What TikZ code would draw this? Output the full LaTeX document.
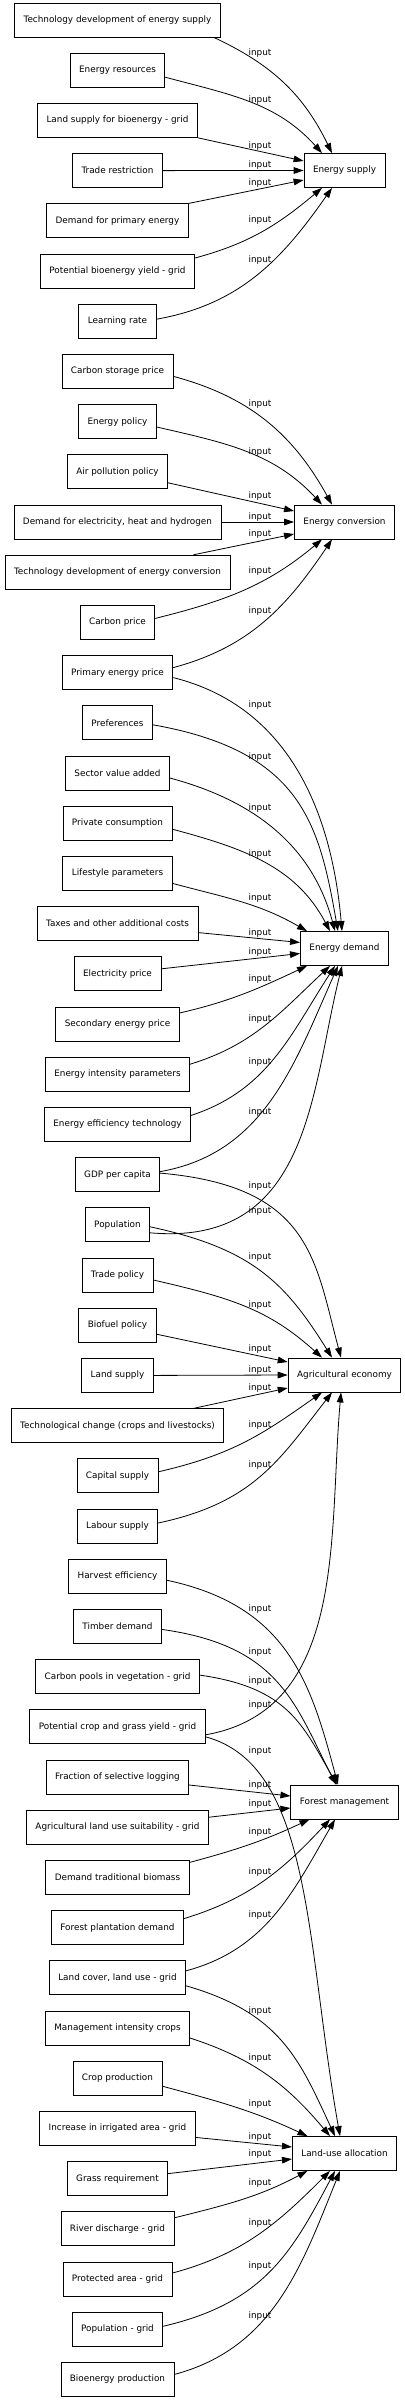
\documentclass[tikz,border=0pt]{standalone}
\usepackage{fontspec}
\setmainfont{DejaVu Sans}
\usetikzlibrary{arrows.meta,calc}
\begin{document}
\begin{tikzpicture}[x=0.75pt,y=0.75pt,
  box/.style={draw, line width=0.6pt, minimum height=25.5pt, inner xsep=6.75pt, inner ysep=0pt, font=\fontsize{6.64pt}{8pt}\selectfont},
  e/.style={-{Triangle[length=7.5pt,width=5pt]}, line width=0.6pt},
  lbl/.style={font=\fontsize{6.64pt}{8pt}\selectfont, inner sep=0pt}]
\useasboundingbox (0,0) rectangle (404,-2400);
% ---------- target nodes
\node[box] (es) at (344.5,-170.5) {Energy supply};
\node[box] (ec) at (344.5,-522) {Energy conversion};
\node[box] (ed) at (344.5,-948.5) {Energy demand};
\node[box] (ae) at (344.5,-1375) {Agricultural economy};
\node[box] (fm) at (344.5,-1802) {Forest management};
\node[box] (lu) at (344.5,-2153.5) {Land-use allocation};
% ---------- source nodes
\node[box] (tds) at (117.5,-20) {Technology development of energy supply};
\node[box] (er) at (117.5,-70.2) {Energy resources};
\node[box] (lsb) at (117.5,-120.4) {Land supply for bioenergy - grid};
\node[box] (tr) at (117.5,-170.6) {Trade restriction};
\node[box] (dpe) at (117.5,-220.8) {Demand for primary energy};
\node[box] (pby) at (117.5,-271) {Potential bioenergy yield - grid};
\node[box] (lr) at (117.5,-321.2) {Learning rate};
\node[box] (csp) at (117.5,-371.4) {Carbon storage price};
\node[box] (epol) at (117.5,-421.6) {Energy policy};
\node[box] (app) at (117.5,-471.8) {Air pollution policy};
\node[box] (deh) at (117.5,-522) {Demand for electricity, heat and hydrogen};
\node[box] (tdc) at (117.5,-572.2) {Technology development of energy conversion};
\node[box] (cp) at (117.5,-622.4) {Carbon price};
\node[box] (pep) at (117.5,-672.6) {Primary energy price};
\node[box] (pref) at (117.5,-722.8) {Preferences};
\node[box] (sva) at (117.5,-773) {Sector value added};
\node[box] (pc) at (117.5,-823.2) {Private consumption};
\node[box] (lp) at (117.5,-873.4) {Lifestyle parameters};
\node[box] (tax) at (117.5,-923.6) {Taxes and other additional costs};
\node[box] (elp) at (117.5,-973.8) {Electricity price};
\node[box] (sep) at (117.5,-1024) {Secondary energy price};
\node[box] (eip) at (117.5,-1074.2) {Energy intensity parameters};
\node[box] (eet) at (117.5,-1124.4) {Energy efficiency technology};
\node[box] (gdp) at (117.5,-1174.6) {GDP per capita};
\node[box] (pop) at (117.5,-1224.8) {Population};
\node[box] (tpol) at (117.5,-1275) {Trade policy};
\node[box] (bp) at (117.5,-1325.2) {Biofuel policy};
\node[box] (ls) at (117.5,-1375.4) {Land supply};
\node[box] (tcc) at (117.5,-1425.6) {Technological change (crops and livestocks)};
\node[box] (cs) at (117.5,-1475.8) {Capital supply};
\node[box] (lab) at (117.5,-1526) {Labour supply};
\node[box] (he) at (117.5,-1576.2) {Harvest efficiency};
\node[box] (td) at (117.5,-1626.4) {Timber demand};
\node[box] (cpv) at (117.5,-1676.6) {Carbon pools in vegetation - grid};
\node[box] (pcg) at (117.5,-1726.8) {Potential crop and grass yield - grid};
\node[box] (fsl) at (117.5,-1777) {Fraction of selective logging};
\node[box] (als) at (117.5,-1827.2) {Agricultural land use suitability - grid};
\node[box] (dtb) at (117.5,-1877.4) {Demand traditional biomass};
\node[box] (fpd) at (117.5,-1927.6) {Forest plantation demand};
\node[box] (lcl) at (117.5,-1977.8) {Land cover, land use - grid};
\node[box] (mic) at (117.5,-2028) {Management intensity crops};
\node[box] (crp) at (117.5,-2078.2) {Crop production};
\node[box] (iia) at (117.5,-2128.4) {Increase in irrigated area - grid};
\node[box] (gr) at (117.5,-2178.6) {Grass requirement};
\node[box] (rd) at (117.5,-2228.8) {River discharge - grid};
\node[box] (pa) at (117.5,-2279) {Protected area - grid};
\node[box] (pg) at (117.5,-2329.2) {Population - grid};
\node[box] (bep) at (117.5,-2379.4) {Bioenergy production};
% ---------- Energy supply
\draw[e] ($(tds.south east)+(-7,0)$) to[out=-25,in=116] ($(es.north)+(-12.5,0)$);
\draw[e] ($(er.east)+(0,-7)$) to[out=-15,in=132] ($(es.north)+(-22.5,0)$);
\draw[e] (lsb.south east) -- ($(es.west)+(0,9.5)$);
\draw[e] (tr.east) -- (es.west);
\draw[e] (dpe.north east) -- ($(es.west)+(0,-9.5)$);
\draw[e] ($(pby.east)+(0,13)$) to[out=15,in=-140] ($(es.south)+(-22.5,0)$);
\draw[e] ($(lr.east)+(0,2)$) to[out=10,in=-125] ($(es.south)+(-12.5,0)$);
% ---------- Energy conversion
\draw[e] ($(csp.east)+(0,-5)$) to[out=-15,in=119] ($(ec.north)+(-12.5,0)$);
\draw[e] ($(epol.east)+(0,-5.4)$) to[out=-13,in=133] ($(ec.north)+(-22.5,0)$);
\draw[e] ($(app.east)+(0,-11)$) -- ($(ec.west)+(0,11)$);
\draw[e] (deh.east) -- (ec.west);
\draw[e] ($(tdc.north east)+(-37,0)$) -- ($(ec.west)+(0,-12)$);
\draw[e] ($(cp.east)+(0,4)$) to[out=14,in=-140] ($(ec.south)+(-22.5,0)$);
\draw[e] ($(pep.east)+(0,5)$) to[out=15,in=-124] ($(ec.south)+(-12.5,0)$);
% ---------- Energy demand
\draw[e] ($(pep.east)+(0,-5)$) to[out=-14,in=95] ($(ed.north)+(-2.5,0)$);
\draw[e] ($(pref.east)+(0,-2)$) to[out=-10,in=100,out looseness=1.4] ($(ed.north)+(-6.5,0)$);
\draw[e] ($(sva.east)+(0,-5)$) to[out=-15,in=105] ($(ed.north)+(-9.5,0)$);
\draw[e] ($(pc.east)+(0,-6)$) to[out=-15,in=118] ($(ed.north)+(-14.5,0)$);
\draw[e] ($(lp.east)+(0,-10)$) to[out=-15,in=150] ($(ed.north west)+(7,0)$);
\draw[e] ($(tax.east)+(0,-9)$) -- ($(ed.west)+(0,6)$);
\draw[e] ($(elp.east)+(0,5)$) -- ($(ed.west)+(0,-5)$);
\draw[e] ($(sep.east)+(0,11)$) to[out=13,in=-155] ($(ed.south west)+(7,0)$);
\draw[e] ($(eip.east)+(0,10)$) to[out=17,in=-137] ($(ed.south)+(-14.5,0)$);
\draw[e] ($(eet.east)+(0,9)$) to[out=18,in=-123] ($(ed.south)+(-9.5,0)$);
\draw[e] ($(gdp.east)+(0,3)$) to[out=10,in=-114] ($(ed.south)+(-6.5,0)$);
\draw[e] ($(pop.east)+(0,-8)$) to[out=-5,in=-104,out looseness=1.25] ($(ed.south)+(-2.5,0)$);
% ---------- Agricultural economy
\draw[e] ($(gdp.east)+(0,1.5)$) to[out=-5,in=105,out looseness=1.5] ($(ae.north)+(-3.5,0)$);
\draw[e] ($(pop.east)+(0,-2)$) to[out=-12,in=122,out looseness=1.2] ($(ae.north)+(-12.5,0)$);
\draw[e] ($(tpol.east)+(0,-5)$) to[out=-13,in=138,out looseness=1.1] ($(ae.north)+(-22.5,0)$);
\draw[e] ($(bp.east)+(0,-9)$) -- ($(ae.west)+(0,13)$);
\draw[e] (ls.east) -- (ae.west);
\draw[e] ($(tcc.north east)+(-30,0)$) -- ($(ae.west)+(0,-13)$);
\draw[e] ($(cs.east)+(0,4)$) to[out=13,in=-145,out looseness=1.1] ($(ae.south)+(-22.5,0)$);
\draw[e] ($(lab.east)+(0,3)$) to[out=12,in=-128,out looseness=1.15] ($(ae.south)+(-12.5,0)$);
\draw[e] ($(pcg.east)+(0,-8)$) to[out=10,in=-95] ($(ae.south)+(-3.5,0)$);
% ---------- Forest management
\draw[e] ($(he.east)+(0,-4)$) to[out=-12,in=105,out looseness=1.2] ($(fm.north)+(-6.5,0)$);
\draw[e] ($(td.east)+(0,-3)$) to[out=-8,in=117,out looseness=1.3] ($(fm.north)+(-8.5,0)$);
\draw[e] ($(cpv.east)+(0,1.5)$) to[out=-8,in=120,out looseness=1.3] ($(fm.north)+(-7.5,0)$);
\draw[e] ($(fsl.east)+(0,-8)$) -- ($(fm.west)+(0,6)$);
\draw[e] ($(als.east)+(0,10)$) -- ($(fm.west)+(0,-6)$);
\draw[e] ($(dtb.east)+(0,15)$) to[out=15,in=-155] ($(fm.south west)+(19,0)$);
\draw[e] ($(fpd.east)+(0,9)$) to[out=17,in=-133] ($(fm.south)+(-14.5,0)$);
\draw[e] ($(lcl.east)+(0,7)$) to[out=15,in=-120] ($(fm.south)+(-9.5,0)$);
% ---------- Land-use allocation
\draw[e] ($(pcg.east)+(0,-10)$) to[out=-15,in=100,out looseness=0.67,in looseness=1.2] ($(lu.north)+(-4.5,0)$);
\draw[e] ($(lcl.east)+(0,-8)$) to[out=-16,in=115,out looseness=1.2] ($(lu.north)+(-9.5,0)$);
\draw[e] ($(mic.east)+(0,-10)$) to[out=-18,in=130] ($(lu.north)+(-14.5,0)$);
\draw[e] ($(crp.east)+(0,-8)$) to[out=-15,in=155] ($(lu.north west)+(15.5,0)$);
\draw[e] ($(iia.east)+(0,-9)$) -- ($(lu.west)+(0,6.5)$);
\draw[e] ($(gr.east)+(0,5)$) -- ($(lu.west)+(0,-5.5)$);
\draw[e] ($(rd.east)+(0,11)$) to[out=14,in=-152] ($(lu.south west)+(15.5,0)$);
\draw[e] ($(pa.east)+(0,6)$) to[out=15,in=-135] ($(lu.south)+(-14.5,0)$);
\draw[e] ($(pg.east)+(0,3)$) to[out=13,in=-118,out looseness=1.15] ($(lu.south)+(-9.5,0)$);
\draw[e] ($(bep.east)+(0,5)$) to[out=15,in=-112] ($(lu.south)+(-4.5,0)$);
% ---------- labels
\foreach \n/\y in {l1/53,l2/100,l3/146,l4/165,l5/183,l6/220,l7/260,
  l8/404,l9/452,l10/496,l11/517,l12/534,l13/571,l14/611,
  l15/705,l16/757,l17/808,l18/854,l19/898,l20/933,l21/952,l22/979,l23/1019,l24/1062,l25/1112,l26/1211,
  l27/1186,l28/1257,l29/1305,l30/1349,l31/1370,l32/1388,l33/1425,l34/1465,l35/1705,
  l36/1609,l37/1652,l38/1681,l39/1785,l40/1804,l41/1832,l42/1872,l43/1915,
  l44/1751,l45/2011,l46/2058,l47/2104,l48/2137,l49/2154,l50/2183,l51/2223,l52/2266,l53/2316}
  \node[lbl] (\n) at (260,-\y) {input};
\end{tikzpicture}
\end{document}
